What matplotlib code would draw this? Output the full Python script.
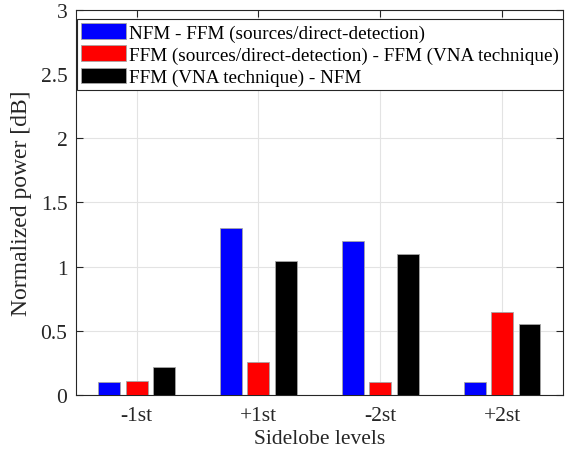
import matplotlib
matplotlib.use("Agg")
import matplotlib.pyplot as plt
import numpy as np

categories = ["-1st", "+1st", "-2st", "+2st"]
series_labels = [
    "NFM - FFM (sources/direct-detection)",
    "FFM (sources/direct-detection) - FFM (VNA technique)",
    "FFM (VNA technique) - NFM",
]
nfm_ffm = [0.10, 1.30, 1.20, 0.10]
ffm_ffm = [0.11, 0.26, 0.10, 0.65]
ffm_nfm = [0.22, 1.04, 1.10, 0.55]
colors = ["#0000ff", "#ff0000", "#000000"]
yticks = [0, 0.5, 1, 1.5, 2, 2.5, 3]
ytick_labels = ["0", "0.5", "1", "1.5", "2", "2.5", "3"]

plt.rcParams["font.family"] = ["Liberation Serif", "DejaVu Serif"]

fig = plt.figure(figsize=(5.71, 4.52), dpi=100)
ax = fig.add_axes([0.1326, 0.124, 0.8534, 0.8518])

x = np.arange(1, len(categories) + 1)
offsets = [-0.225, 0.0, 0.225]
width = 0.18
for vals, off, c, lab in zip([nfm_ffm, ffm_ffm, ffm_nfm], offsets, colors, series_labels):
    ax.bar(x + off, vals, width, color=c, edgecolor="0.65", linewidth=0.6, label=lab, zorder=3)

ax.set_xlim(0.5, 4.5)
ax.set_ylim(0, 3)
ax.set_xticks(x)
ax.set_xticklabels(categories)
ax.set_yticks(yticks)
ax.set_yticklabels(ytick_labels)
ax.tick_params(direction="in", top=True, right=True, length=5, width=0.8, labelsize=15.5, colors="#262626")
ax.tick_params(axis="x", pad=8)
ax.tick_params(axis="y", pad=6)
for s in ax.spines.values():
    s.set_color("#262626")
    s.set_linewidth(0.8)
ax.grid(True, color="#e3e3e3", linewidth=0.8, zorder=0)
ax.set_axisbelow(True)

ax.set_xlabel("Sidelobe levels", fontsize=15.5, color="#262626", labelpad=3)
ax.set_ylabel("Normalized power [dB]", fontsize=17, color="#262626", labelpad=6)

leg = ax.legend(loc="upper left", bbox_to_anchor=(0.003, 1 - 9 / 385), fontsize=13.8, handlelength=2.35,
                handleheight=0.87, handletextpad=0.15, labelspacing=0.2, borderpad=0.22,
                borderaxespad=0.0, fancybox=False, framealpha=1, edgecolor="#262626")
leg.get_frame().set_linewidth(0.8)

fig.savefig("out.png", dpi=100)
